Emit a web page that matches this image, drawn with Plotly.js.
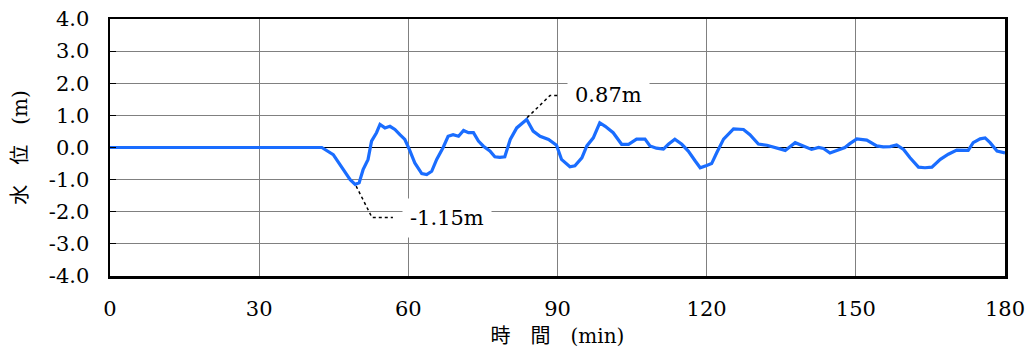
<!DOCTYPE html>
<html>
<head>
<meta charset="utf-8">
<script src="https://cdn.plot.ly/plotly-3.0.1.min.js"></script>
<style>html,body{margin:0;padding:0;background:#fff;}#chart{width:1031px;height:349px;}</style>
</head>
<body>
<div id="chart"></div>
<script>
// time (min)
const timeMin = [0, 42.6, 44.9, 46.6, 48.3, 49.3, 50.1, 50.9, 51.9, 52.6, 53.6, 54.3, 55.3, 56.3, 57.3, 58.3, 59.3, 60.2, 61.3, 62.7, 63.7, 64.7, 65.7, 67.0, 68.0, 69.0, 70.1, 71.1, 72.1, 73.1, 74.1, 75.1, 76.4, 77.4, 78.4, 79.4, 80.5, 81.8, 83.8, 85.1, 86.5, 88.2, 89.8, 90.8, 92.5, 93.5, 94.9, 95.9, 97.2, 98.5, 99.6, 101.2, 102.9, 104.3, 105.9, 107.6, 108.6, 109.9, 111.3, 112.3, 113.6, 115.0, 116.3, 117.7, 118.7, 120.0, 121.0, 122.0, 123.4, 125.4, 127.4, 128.7, 130.4, 132.1, 134.1, 135.8, 137.8, 139.4, 141.1, 142.5, 143.5, 144.8, 146.5, 147.8, 148.8, 150.2, 152.2, 154.2, 155.5, 156.9, 158.2, 159.6, 160.9, 162.6, 163.9, 165.3, 167.0, 168.6, 170.3, 172.6, 173.6, 175.0, 176.0, 177.0, 178.4, 180.0];
// water level (m)
const waterLevel = [0, 0, -0.22, -0.63, -1.0, -1.15, -1.1, -0.69, -0.37, 0.2, 0.46, 0.72, 0.61, 0.66, 0.56, 0.4, 0.25, -0.06, -0.48, -0.81, -0.84, -0.74, -0.37, 0, 0.35, 0.4, 0.35, 0.53, 0.46, 0.46, 0.2, 0.04, -0.11, -0.29, -0.31, -0.29, 0.25, 0.61, 0.87, 0.51, 0.35, 0.25, 0.07, -0.37, -0.6, -0.57, -0.32, 0.05, 0.3, 0.77, 0.66, 0.46, 0.1, 0.1, 0.26, 0.26, 0.05, -0.02, -0.05, 0.1, 0.26, 0.1, -0.11, -0.42, -0.63, -0.56, -0.5, -0.17, 0.26, 0.58, 0.56, 0.4, 0.11, 0.07, -0.03, -0.09, 0.15, 0.05, -0.06, 0, -0.03, -0.17, -0.06, 0, 0.12, 0.27, 0.23, 0.05, 0.02, 0.03, 0.08, -0.06, -0.32, -0.61, -0.63, -0.61, -0.37, -0.21, -0.08, -0.09, 0.15, 0.27, 0.3, 0.15, -0.11, -0.17];

const xTickVals = [0, 30, 60, 90, 120, 150, 180];
const yTickVals = [4, 3, 2, 1, 0, -1, -2, -3, -4];
const yTickText = ['4.0', '3.0', '2.0', '1.0', '0.0', '-1.0', '-2.0', '-3.0', '-4.0'];
const xTitle = '時　間　(min)';
const yTitle = '水　位　(m)';

// extremes
let iMax = 0, iMin = 0;
waterLevel.forEach((v, i) => { if (v > waterLevel[iMax]) iMax = i; if (v < waterLevel[iMin]) iMin = i; });
const tMax = timeMin[iMax], vMax = waterLevel[iMax];
const tMin = timeMin[iMin], vMin = waterLevel[iMin];
const fmt = v => (v < 0 ? '-' : '') + Math.abs(v).toFixed(2) + 'm';

const serif = "DejaVu Serif, Liberation Serif, Noto Sans CJK JP, serif";

const trace = {
  x: timeMin, y: waterLevel, type: 'scatter', mode: 'lines',
  line: {color: '#1a6dff', width: 3.2, shape: 'linear'},
  hoverinfo: 'skip'
};

const layout = {
  width: 1031, height: 349,
  margin: {l: 110, r: 26, t: 19, b: 73},
  paper_bgcolor: '#fff', plot_bgcolor: '#fff',
  showlegend: false,
  font: {family: serif, size: 21, color: '#000'},
  xaxis: {
    range: [0, 180], tickvals: xTickVals, ticks: '',
    showgrid: true, gridcolor: '#808080', gridwidth: 1,
    showline: true, linecolor: '#000', linewidth: 2.5, mirror: true,
    zeroline: false, ticklabelstandoff: 12,
    tickfont: {family: serif, size: 21, color: '#000'},
    title: {text: xTitle, font: {family: serif, size: 20, color: '#000'}, standoff: 10}
  },
  yaxis: {
    range: [-4, 4], tickvals: yTickVals, ticktext: yTickText,
    ticks: 'inside', ticklen: 6, tickcolor: '#000', tickwidth: 1,
    showgrid: true, gridcolor: '#808080', gridwidth: 1,
    showline: true, linecolor: '#000', linewidth: 2.5, mirror: true,
    zeroline: true, zerolinecolor: '#000', zerolinewidth: 1,
    ticklabelstandoff: 14,
    tickfont: {family: serif, size: 21, color: '#000'},
    title: {text: yTitle, font: {family: serif, size: 20, color: '#000'}, standoff: 16}
  },
  shapes: [
    {type: 'path', xref: 'x', yref: 'y', layer: 'above',
     path: `M${tMin + 0.2},${vMin - 0.05} L${tMin + 3.4},${vMin - 1.03} L${tMin + 7.6},${vMin - 1.03}`,
     line: {color: '#000', width: 1.5, dash: 'dot'}},
    {type: 'path', xref: 'x', yref: 'y', layer: 'above',
     path: `M${tMax + 0.1},${vMax + 0.06} L${tMax + 4.7},${vMax + 0.75} L${tMax + 6.7},${vMax + 0.75}`,
     line: {color: '#000', width: 1.5, dash: 'dot'}}
  ],
  annotations: [
    {x: tMin + 18.5, y: vMin - 1.03, xref: 'x', yref: 'y', text: fmt(vMin), showarrow: false,
     bgcolor: '#fff', borderpad: 7, font: {family: serif, size: 21, color: '#000'}},
    {x: tMax + 16.4, y: vMax + 0.75, xref: 'x', yref: 'y', text: fmt(vMax), showarrow: false,
     bgcolor: '#fff', borderpad: 7, font: {family: serif, size: 21, color: '#000'}}
  ]
};

Plotly.newPlot('chart', [trace], layout, {displayModeBar: false, staticPlot: true});
</script>
</body>
</html>
